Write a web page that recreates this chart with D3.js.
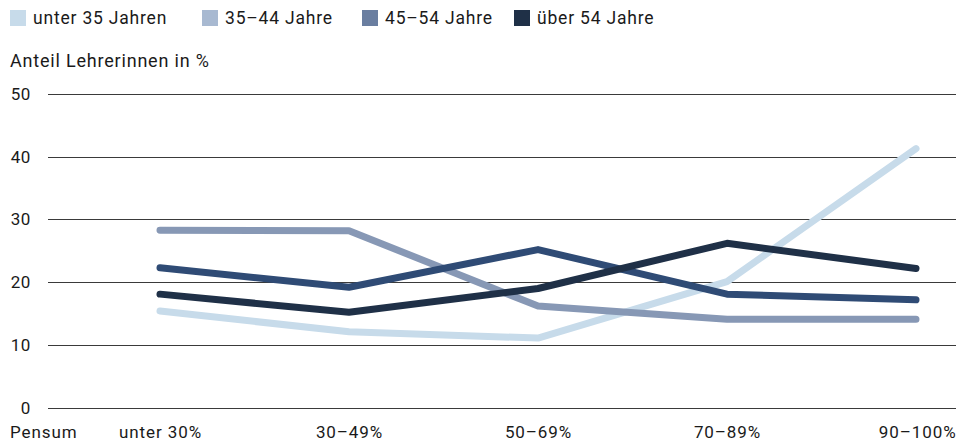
<!DOCTYPE html>
<html>
<head>
<meta charset="utf-8">
<script src="https://cdn.jsdelivr.net/npm/d3@7"></script>
<style>
  body { margin: 0; background: #fff; }
  svg { display: block; font-family: Roboto, "Noto Sans", sans-serif; }
</style>
</head>
<body>
<svg id="chart"></svg>
<script>
const categories = ["unter 30%", "30–49%", "50–69%", "70–89%", "90–100%"];
const seriesNames = ["unter 35 Jahren", "35–44 Jahre", "45–54 Jahre", "über 54 Jahre"];
const unter35 = [15.4, 12.1, 11.1, 20.1, 41.3];
const j35bis44 = [28.3, 28.2, 16.2, 14.1, 14.1];
const j45bis54 = [22.3, 19.2, 25.2, 18.1, 17.2];
const ueber54 = [18.1, 15.2, 19.0, 26.2, 22.2];
const yTicks = [0, 10, 20, 30, 40, 50];

const lineColors = ["#c7dbea", "#8798b5", "#2f4b75", "#1f3047"];
const legendColors = ["#c7dbea", "#a8b9d1", "#6a7ea0", "#1f3047"];

const width = 956, height = 441;
const margin = {top: 94, right: 0, bottom: 33, left: 48};
const textColor = "#1a1a1a";

const svg = d3.select("#chart")
    .attr("width", width)
    .attr("height", height)
    .attr("fill", textColor);

const x = d3.scalePoint()
    .domain(categories)
    .range([160, 916]);

const y = d3.scaleLinear()
    .domain([0, 50])
    .range([height - margin.bottom - 0.3, margin.top]);

// legend
const legend = svg.append("g")
    .attr("font-size", 17.5)
    .attr("letter-spacing", 0.8);
const legendX = [10, 202, 362, 514];
seriesNames.forEach((name, i) => {
    const g = legend.append("g").attr("transform", `translate(${legendX[i]},10)`);
    g.append("rect").attr("width", 16).attr("height", 16).attr("fill", legendColors[i]);
    g.append("text").attr("x", 23).attr("y", 14).text(name);
});

svg.append("text")
    .attr("x", 10).attr("y", 67)
    .attr("font-size", 18)
    .attr("letter-spacing", 0.8)
    .text("Anteil Lehrerinnen in %");

// y grid + labels
const yAxis = svg.append("g")
    .call(d3.axisLeft(y).tickValues(yTicks).tickSize(0).tickPadding(0))
    .attr("transform", `translate(31,0)`);
yAxis.select(".domain").remove();
yAxis.selectAll("text")
    .attr("font-size", 17)
    .attr("letter-spacing", 0.6)
    .attr("font-family", "Roboto, 'Noto Sans', sans-serif")
    .attr("fill", textColor);

svg.append("g")
    .selectAll("line")
    .data(yTicks)
    .join("line")
    .attr("x1", margin.left)
    .attr("x2", width - margin.right)
    .attr("y1", d => Math.round(y(d)) + 0.5)
    .attr("y2", d => Math.round(y(d)) + 0.5)
    .attr("stroke", "#3a3a3a")
    .attr("stroke-width", 1);

// x labels
const xAxis = svg.append("g")
    .attr("transform", `translate(0,${height - 3})`)
    .call(d3.axisBottom(x).tickSize(0).tickPadding(0));
xAxis.select(".domain").remove();
xAxis.selectAll("text")
    .attr("dy", 0)
    .attr("y", 0)
    .attr("font-size", 17)
    .attr("letter-spacing", 0.9)
    .attr("font-family", "Roboto, 'Noto Sans', sans-serif")
    .attr("fill", textColor);
xAxis.selectAll("g.tick").filter(d => d === "90–100%").select("text")
    .attr("text-anchor", "end").attr("x", 40);

svg.append("text")
    .attr("x", 10).attr("y", height - 3)
    .attr("font-size", 17)
    .attr("letter-spacing", 0.9)
    .text("Pensum");

// lines
const series = [unter35, j35bis44, j45bis54, ueber54];
const line = d3.line()
    .x((d, i) => x(categories[i]))
    .y(d => y(d));

svg.append("g")
    .selectAll("path")
    .data(series)
    .join("path")
    .attr("d", line)
    .attr("fill", "none")
    .attr("stroke", (d, i) => lineColors[i])
    .attr("stroke-width", 7)
    .attr("stroke-linecap", "round")
    .attr("stroke-linejoin", "round");
</script>
</body>
</html>
